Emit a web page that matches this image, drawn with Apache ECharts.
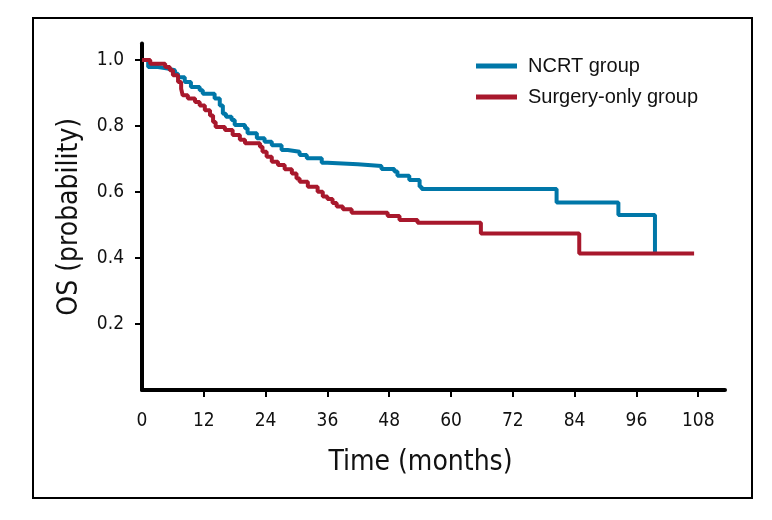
<!DOCTYPE html>
<html>
<head>
<meta charset="utf-8">
<script src="https://cdn.jsdelivr.net/npm/echarts@6/dist/echarts.min.js"></script>
<style>
html,body{margin:0;padding:0;background:#fff;}
#chart{width:772px;height:520px;}
</style>
</head>
<body>
<div id="chart"></div>
<script>
// Kaplan-Meier step points: [time in months, survival probability]
var seriesNames = ['NCRT group', 'Surgery-only group'];
var ncrtCurve = [
  [0,1.0],[1.2,0.979],[3.1,0.974],[5.0,0.969],[6.4,0.958],[7.0,0.948],[8.3,0.933],
  [9.5,0.918],[11.2,0.908],[11.8,0.898],[14.1,0.883],[15.1,0.862],[15.7,0.837],
  [16.3,0.828],[17.4,0.818],[18.0,0.803],[20.0,0.793],[20.5,0.778],[22.3,0.763],
  [23.8,0.752],[25.2,0.742],[27.1,0.727],[28.3,0.722],[30.6,0.712],[32.0,0.702],
  [34.9,0.689],[36.0,0.684],[41.9,0.679],[46.5,0.670],[49.0,0.662],[49.6,0.649],
  [51.9,0.636],[53.9,0.616],[54.3,0.609],[80.5,0.568],[92.5,0.530],[99.6,0.418]
];
var surgeryCurve = [
  [0,1.0],[1.6,0.989],[4.5,0.979],[5.4,0.969],[6.0,0.954],[7.0,0.933],[7.6,0.913],
  [7.9,0.893],[8.9,0.883],[10.3,0.873],[11.2,0.862],[12.2,0.848],[13.2,0.832],
  [13.8,0.812],[14.3,0.797],[16.1,0.788],[17.6,0.773],[19.0,0.758],[20.0,0.748],
  [22.9,0.737],[23.4,0.722],[24.2,0.707],[25.2,0.692],[26.4,0.682],[27.7,0.669],
  [29.1,0.656],[30.0,0.641],[30.6,0.631],[32.2,0.616],[34.1,0.601],[35.1,0.586],
  [36.0,0.579],[37.0,0.567],[37.8,0.556],[39.0,0.548],[40.7,0.537],[47.7,0.527],
  [50.0,0.515],[53.5,0.507],[65.8,0.474],[84.9,0.414],[107.2,0.414]
];
var xTicks = [12,24,36,48,60,72,84,96,108];
var xLabels = [0,12,24,36,48,60,72,84,96,108];
var yTicks = [0.2,0.4,0.6,0.8,1.0];
var xTitle = 'Time (months)';
var yTitle = 'OS (probability)';

var condensed = "'Liberation Sans Narrow','Arial Narrow','DejaVu Sans Condensed',sans-serif";
var regular = "'Liberation Sans','Arial',sans-serif";
var blue = '#0077a8';
var red = '#a8182c';

var chart = echarts.init(document.getElementById('chart'), null, {renderer:'canvas'});
chart.setOption({
  animation: false,
  backgroundColor: '#fff',
  graphic: [{
    type: 'rect',
    shape: {x: 33, y: 18, width: 719, height: 480},
    style: {fill: 'none', stroke: '#000', lineWidth: 2},
    silent: true
  }],
  legend: {
    orient: 'vertical',
    left: 476, top: 56,
    padding: 0,
    itemWidth: 41, itemHeight: 5,
    itemGap: 11,
    icon: 'rect',
    textStyle: {fontFamily: regular, fontSize: 20, color: '#111', padding: [0,0,0,6]},
    data: seriesNames
  },
  grid: {left: 142, right: 47, top: 43.5, bottom: 130, containLabel: false},
  xAxis: {
    type: 'value', min: 0, max: 113.2,
    splitLine: {show: false},
    axisLine: {show: true, onZero: false, lineStyle: {color: '#000', width: 4}},
    axisTick: {show: true, length: 7, customValues: xTicks, lineStyle: {color: '#000', width: 2}},
    axisLabel: {customValues: xLabels, margin: 22, fontFamily: condensed, fontSize: 19, color: '#111'},
    name: xTitle, nameLocation: 'middle', nameGap: 59,
    nameTextStyle: {fontFamily: condensed, fontSize: 28, color: '#111', padding: [0, 26, 0, 0]}
  },
  yAxis: {
    type: 'value', min: 0, max: 1.05,
    splitLine: {show: false},
    axisLine: {show: true, onZero: false, lineStyle: {color: '#000', width: 4}},
    axisTick: {show: true, length: 7, customValues: yTicks, lineStyle: {color: '#000', width: 2}},
    axisLabel: {customValues: yTicks, margin: 18, fontFamily: condensed, fontSize: 19, color: '#111',
      formatter: function(v){ return v.toFixed(1); }},
    name: yTitle, nameLocation: 'middle', nameGap: 58,
    nameTextStyle: {fontFamily: condensed, fontSize: 28, color: '#111'}
  },
  series: [
    {name: seriesNames[0], type: 'line', step: 'end', data: ncrtCurve, showSymbol: false, symbol: 'none',
     color: blue, lineStyle: {color: blue, width: 4}, z: 2},
    {name: seriesNames[1], type: 'line', step: 'end', data: surgeryCurve, showSymbol: false, symbol: 'none',
     color: red, lineStyle: {color: red, width: 4}, z: 3}
  ]
});
</script>
</body>
</html>
